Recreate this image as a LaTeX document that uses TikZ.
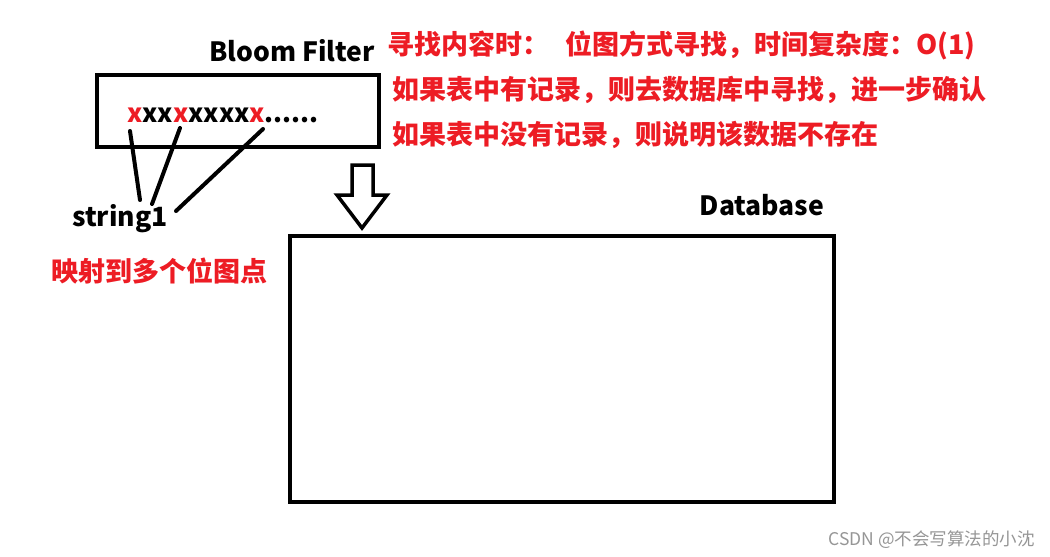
\documentclass[tikz,border=0pt]{standalone}
\usepackage{fontspec}
\setmainfont{Noto Sans CJK SC}
\definecolor{redtxt}{RGB}{237,28,36}
\definecolor{wm}{RGB}{150,150,150}
\begin{document}
\begin{tikzpicture}[x=1pt,y=-1pt,
  box/.style={draw=black,line width=4pt},
  lbl/.style={font=\fontsize{26.5}{30}\selectfont\bfseries,inner sep=0pt},
  redlbl/.style={font=\fontsize{27}{31}\selectfont\bfseries,text=redtxt,inner sep=0pt,anchor=west},
  link/.style={line width=4pt,line cap=round}]
\useasboundingbox (0,0) rectangle (1050,557);
\fill[white] (0,0) rectangle (1050,557);
% Bloom filter box
\draw[box] (97,75) rectangle (379,147);
\node[lbl] (bf) at (292,51) {Bloom Filter};
\node[lbl,anchor=west] (bits) at (127,115) {\fontsize{25.6}{29}\selectfont\textcolor{redtxt}{x}xx\textcolor{redtxt}{x}xxxx\textcolor{redtxt}{x}......};
\coordinate (x1) at (130,131);
\coordinate (x2) at (180,128);
\coordinate (x3) at (263,129);
\node[lbl] (s1) at (120,219) {string1};
\coordinate (s1a) at (140,200);
\coordinate (s1b) at (152,204);
\coordinate (s1c) at (176,211);
\draw[link] (x1) -- (s1a);
\draw[link] (x2) -- (s1b);
\draw[link] (x3) -- (s1c);
\node[redlbl] (map) at (51,271) {映射到多个位图点};
% hollow arrow
\draw[line width=3.5pt,line join=miter,fill=white] (352,165) -- (373,165) -- (373,195) -- (387,195) -- (362,228) -- (337,195) -- (352,195) -- cycle;
% Database
\node[lbl] (db) at (762,205) {Database};
\draw[box] (290,236) rectangle (834,502);
% red texts
\node[redlbl] (t1) at (387,45) {寻找内容时：\hspace{0.6em}位图方式寻找，时间复杂度：O(1)};
\node[redlbl] (t2) at (392,90) {如果表中有记录，则去数据库中寻找，进一步确认};
\node[redlbl] (t3) at (392,135) {如果表中没有记录，则说明该数据不存在};
% watermark
\node[font=\fontsize{17.5}{20}\selectfont,text=wm,inner sep=0pt,anchor=east] (wmk) at (1035,540) {CSDN @不会写算法的小沈};
\end{tikzpicture}
\end{document}
